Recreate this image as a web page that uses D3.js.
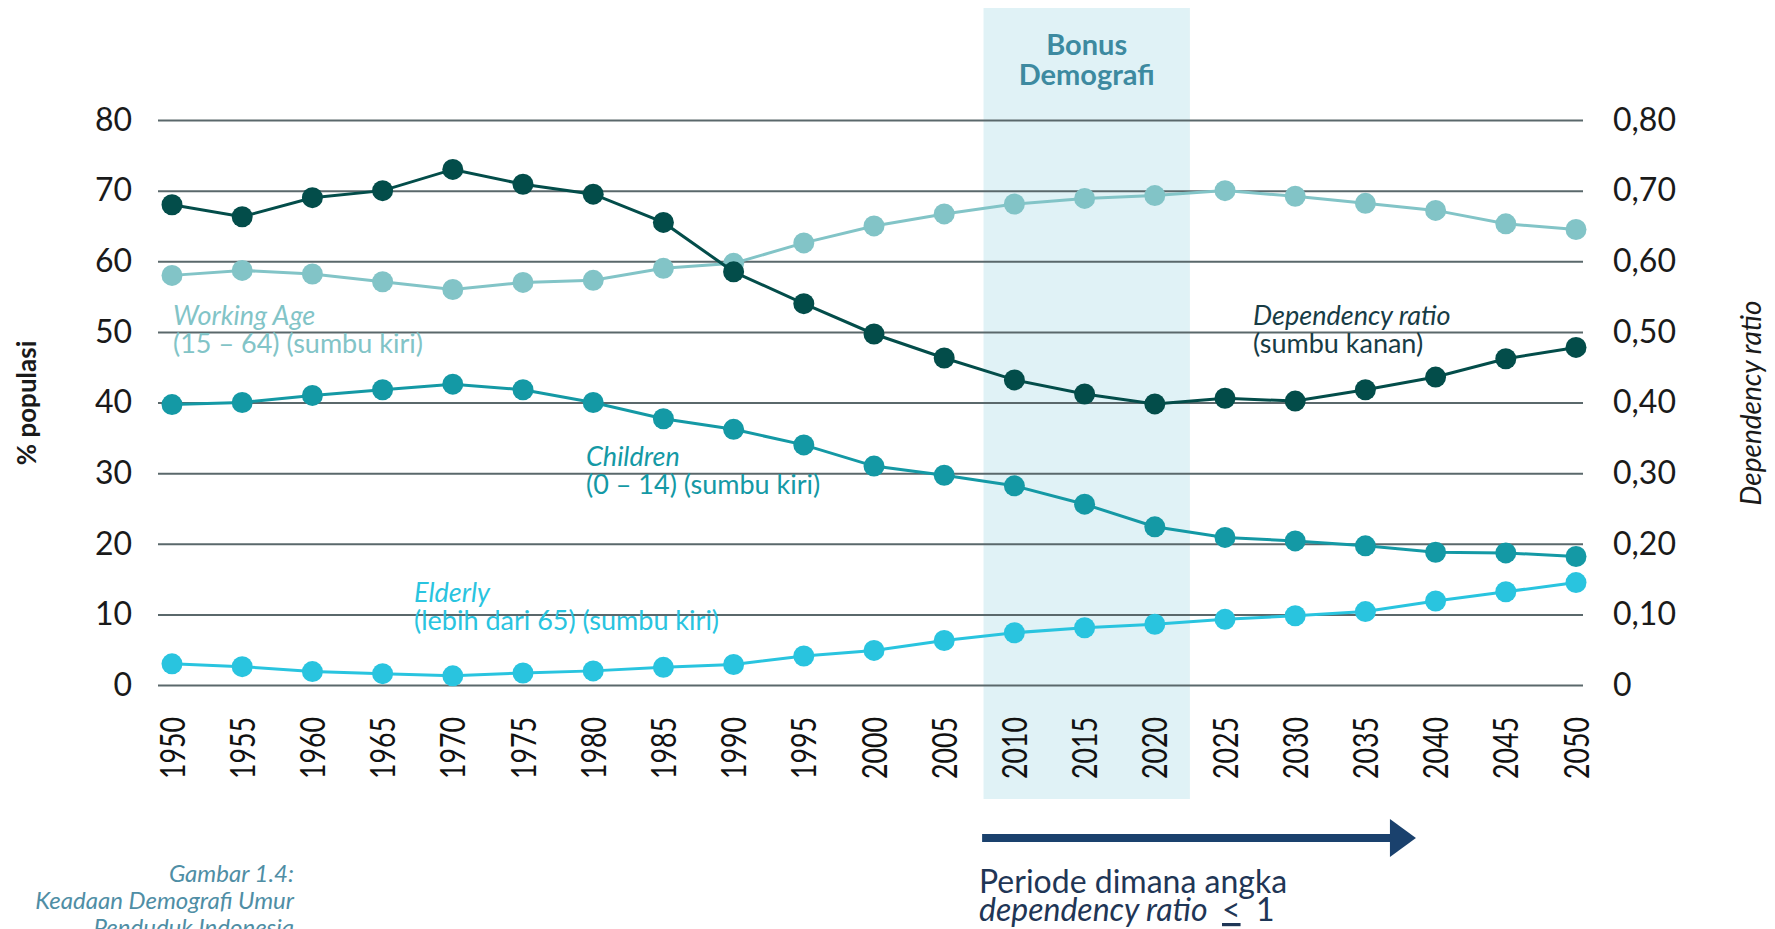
<!DOCTYPE html>
<html>
<head>
<meta charset="utf-8">
<script src="https://cdn.jsdelivr.net/npm/d3@7"></script>
<style>
  body { margin: 0; background: #fff; }
  text { font-family: 'Lato', sans-serif; }
</style>
</head>
<body>
<svg width="1775" height="929"></svg>
<script>
const years = [1950,1955,1960,1965,1970,1975,1980,1985,1990,1995,2000,2005,2010,2015,2020,2025,2030,2035,2040,2045,2050];
const workingAge = [58,58.7,58.2,57.1,56,57,57.3,59,59.7,62.6,65,66.7,68.1,68.9,69.3,70,69.2,68.2,67.2,65.3,64.5];
const children = [39.7,40,41,41.8,42.6,41.8,40,37.7,36.2,34,31,29.7,28.2,25.6,22.4,20.9,20.4,19.7,18.8,18.7,18.2];
const elderly = [3.0,2.6,1.9,1.6,1.3,1.7,2.0,2.5,2.9,4.1,4.9,6.3,7.4,8.1,8.6,9.3,9.8,10.4,11.9,13.2,14.5];
const dependency = [0.68,0.663,0.69,0.70,0.73,0.709,0.695,0.655,0.585,0.54,0.497,0.463,0.432,0.412,0.398,0.406,0.402,0.418,0.436,0.462,0.478];

const leftTicks = [0,10,20,30,40,50,60,70,80];
const rightTicks = [0,0.1,0.2,0.3,0.4,0.5,0.6,0.7,0.8];
const bonusYears = [2007.8, 2022.5];
const arrowYears = [2007.7, 2038.6];

const svg = d3.select('svg');

const x = d3.scaleLinear().domain([1950,2050]).range([172,1576]);
const yLeft = d3.scaleLinear().domain([0,80]).range([685,120]);
const yRight = d3.scaleLinear().domain([0,0.8]).range([685,120]);

// bonus demografi band
svg.append('rect')
  .attr('x', x(bonusYears[0]))
  .attr('y', 8)
  .attr('width', x(bonusYears[1]) - x(bonusYears[0]))
  .attr('height', 791)
  .attr('fill', '#e0f2f6');

const bandMid = (x(bonusYears[0]) + x(bonusYears[1]))/2;
svg.append('text')
  .attr('text-anchor','middle')
  .attr('font-weight','bold')
  .attr('font-size', 29)
  .attr('fill','#3d8aa0')
  .selectAll('tspan')
  .data(['Bonus','Demografi'])
  .join('tspan')
  .attr('x', bandMid)
  .attr('y', (d,i) => 55 + i*30)
  .text(d => d);

// gridlines + left labels
const leftAxis = d3.axisLeft(yLeft).tickValues(leftTicks).tickSize(-1425).tickPadding(26);
const gLeft = svg.append('g')
  .attr('transform','translate(158,0)')
  .call(leftAxis);
gLeft.select('.domain').remove();
gLeft.selectAll('line').attr('stroke','#5a686b').attr('stroke-width',2);
gLeft.selectAll('text').attr('font-size',32).attr('fill','#1a1a1a').attr('font-family','Lato, sans-serif');

const rightAxis = d3.axisRight(yRight).tickValues(rightTicks).tickSize(0).tickPadding(30)
  .tickFormat(d => d === 0 ? '0' : d3.format('.2f')(d).replace('.', ','));
const gRight = svg.append('g')
  .attr('transform','translate(1583,0)')
  .call(rightAxis);
gRight.select('.domain').remove();
gRight.selectAll('text').attr('font-size',32).attr('fill','#1a1a1a').attr('font-family','Lato, sans-serif');

// year labels
const xAxis = d3.axisBottom(x).tickValues(years).tickSize(0).tickFormat(d3.format('d'));
const gX = svg.append('g').call(xAxis);
gX.select('.domain').remove();
gX.selectAll('.tick text')
  .attr('transform','translate(12,717) rotate(-90)')
  .attr('x',0).attr('y',0).attr('dy',0)
  .attr('text-anchor','end')
  .attr('font-family',"'Liberation Sans', Arial, sans-serif")
  .attr('font-size',35)
  .attr('textLength',62)
  .attr('lengthAdjust','spacingAndGlyphs')
  .attr('fill','#111');

// series
const series = [
  {name:'elderly', values: elderly, y: yLeft, color:'#29c4df'},
  {name:'children', values: children, y: yLeft, color:'#1499a5'},
  {name:'working', values: workingAge, y: yLeft, color:'#82c4c7'},
  {name:'dependency', values: dependency, y: yRight, color:'#034d4a'}
];

series.forEach(s => {
  const line = d3.line()
    .x((d,i) => x(years[i]))
    .y(d => s.y(d));
  svg.append('path')
    .datum(s.values)
    .attr('d', line)
    .attr('fill','none')
    .attr('stroke', s.color)
    .attr('stroke-width', 3);
  svg.append('g')
    .selectAll('circle')
    .data(s.values)
    .join('circle')
    .attr('cx', (d,i) => x(years[i]))
    .attr('cy', d => s.y(d))
    .attr('r', 10.5)
    .attr('fill', s.color);
});

// series labels
const labels = [
  {lines:['Working Age','(15 – 64) (sumbu kiri)'], x:173, y:325, color:'#82c4c7'},
  {lines:['Children','(0 – 14) (sumbu kiri)'], x:586, y:466, color:'#1499a5'},
  {lines:['Elderly','(lebih dari 65) (sumbu kiri)'], x:414, y:602, color:'#29c4df'},
  {lines:['Dependency ratio','(sumbu kanan)'], x:1253, y:325, color:'#173c45'}
];
labels.forEach(l => {
  svg.append('text')
    .attr('x', l.x).attr('y', l.y)
    .attr('font-size', 27)
    .attr('font-style','italic')
    .attr('fill', l.color)
    .text(l.lines[0]);
  svg.append('text')
    .attr('x', l.x).attr('y', l.y + 28)
    .attr('font-size', 27)
    .attr('fill', l.color)
    .text(l.lines[1]);
});

// axis titles
svg.append('text')
  .attr('transform','translate(36,403) rotate(-90)')
  .attr('text-anchor','middle')
  .attr('font-size',26)
  .attr('font-weight','bold')
  .attr('fill','#1a1a1a')
  .text('% populasi');

svg.append('text')
  .attr('transform','translate(1761,403) rotate(-90)')
  .attr('text-anchor','middle')
  .attr('font-family',"'DejaVu Sans', sans-serif")
  .attr('font-style','italic')
  .attr('font-size',28)
  .attr('fill','#1a1a1a')
  .text('Dependency ratio');

// arrow
const arrowY = 838;
svg.append('line')
  .attr('x1', x(arrowYears[0]))
  .attr('x2', x(arrowYears[1]) - 22)
  .attr('y1', arrowY).attr('y2', arrowY)
  .attr('stroke','#1a416d')
  .attr('stroke-width',8);
svg.append('path')
  .attr('d', `M${x(arrowYears[1]) - 26},${arrowY - 19} L${x(arrowYears[1])},${arrowY} L${x(arrowYears[1]) - 26},${arrowY + 19} Z`)
  .attr('fill','#1a416d');

svg.append('text')
  .attr('x',979).attr('y',893)
  .attr('font-size',32)
  .attr('fill','#1f3656')
  .text('Periode dimana angka');
svg.append('text')
  .attr('x',979).attr('y',921)
  .attr('font-size',32)
  .attr('font-style','italic')
  .attr('fill','#1f3656')
  .text('dependency ratio');
svg.append('text')
  .attr('x',1222).attr('y',921)
  .attr('font-size',32)
  .attr('text-decoration','underline')
  .attr('fill','#1f3656')
  .text('<');
svg.append('text')
  .attr('x',1256).attr('y',921)
  .attr('font-size',32)
  .attr('fill','#1f3656')
  .text('1');

// caption
const caption = svg.append('text')
  .attr('text-anchor','end')
  .attr('font-size',24)
  .attr('font-style','italic')
  .attr('fill','#4f8ea5');
['Gambar 1.4:','Keadaan Demografi Umur','Penduduk Indonesia'].forEach((s,i) => {
  caption.append('tspan').attr('x',294).attr('y',882 + i*27).text(s);
});
</script>
</body>
</html>
